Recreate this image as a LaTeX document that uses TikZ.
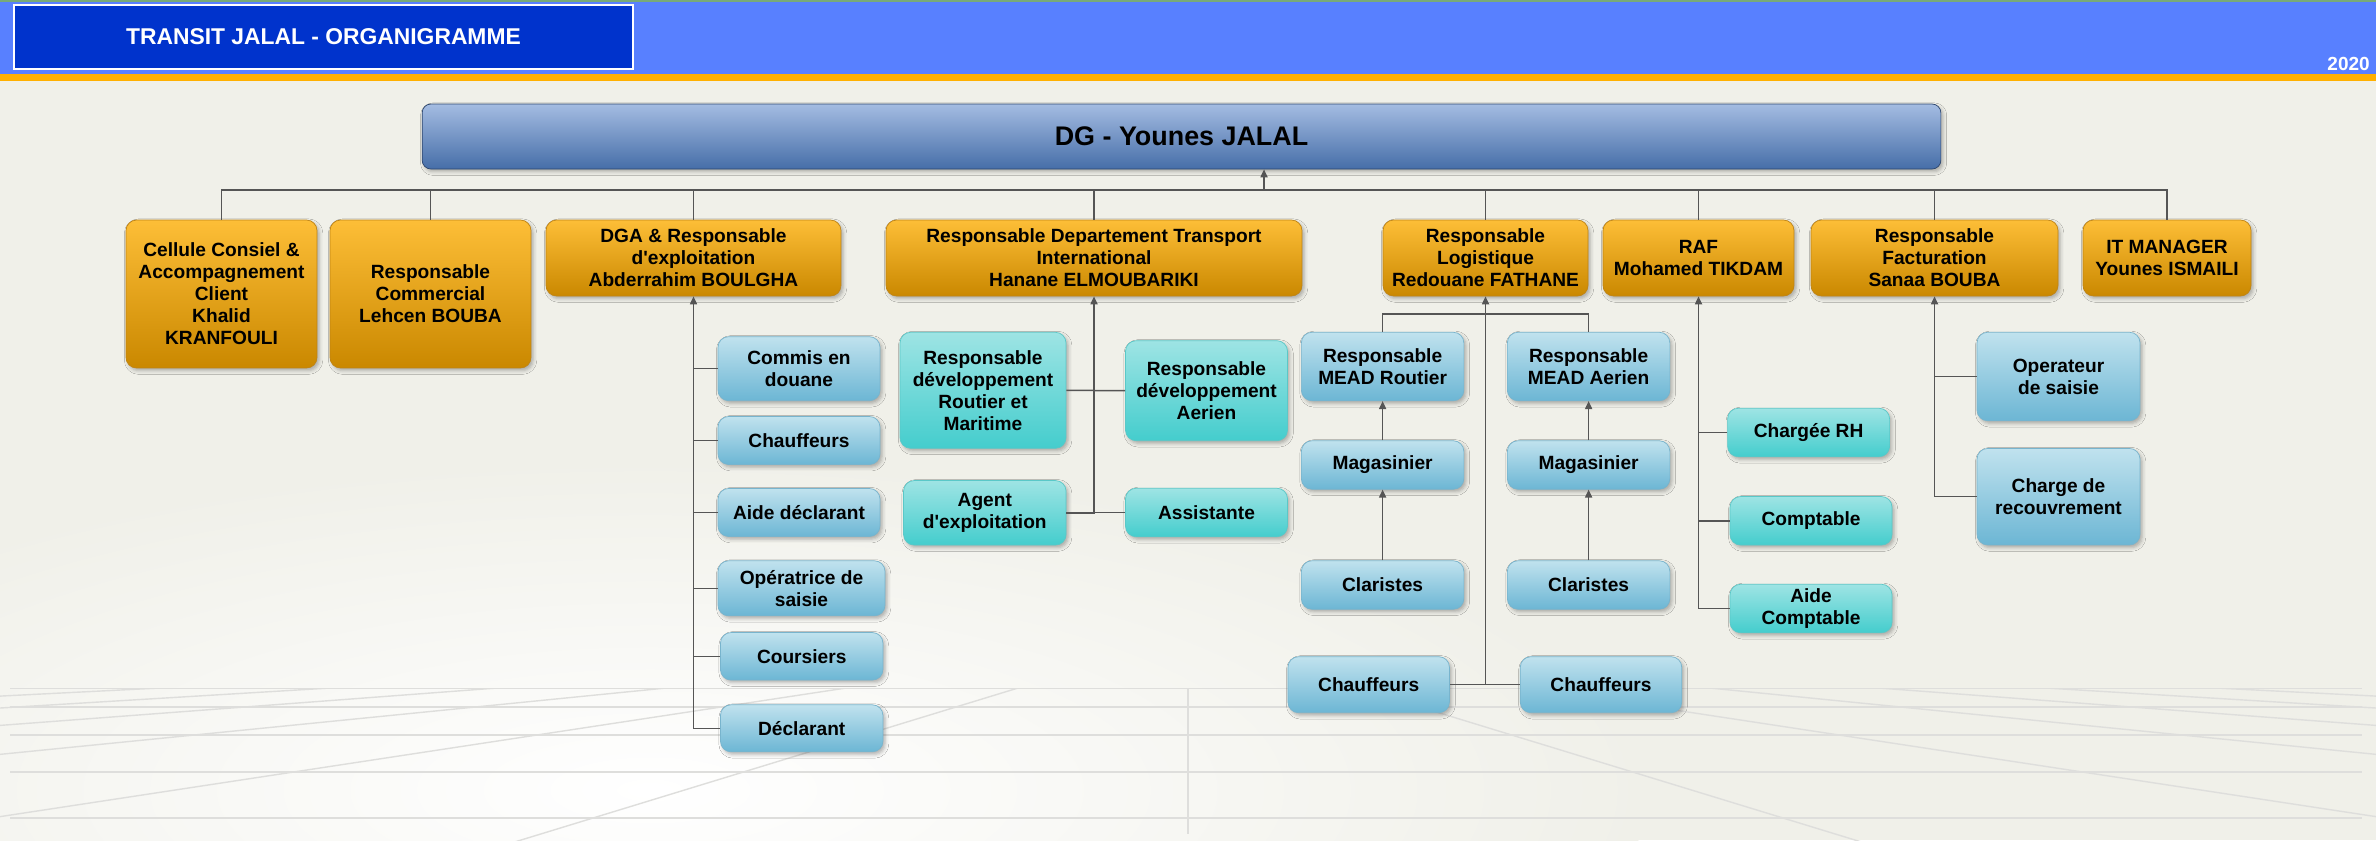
\documentclass[tikz,border=0pt]{standalone}
\usepackage{fontspec}
\setmainfont{Liberation Sans}
\usetikzlibrary{arrows.meta,shadows.blur}
\definecolor{bandeau}{RGB}{88,128,255}
\definecolor{liseret}{RGB}{120,170,120}
\definecolor{titrebleu}{RGB}{0,51,204}
\definecolor{orbande}{RGB}{255,176,0}
\definecolor{fond}{RGB}{240,240,233}
\definecolor{trait}{RGB}{85,85,85}
\definecolor{sol}{RGB}{222,222,220}
\definecolor{orhaut}{RGB}{253,190,55}
\definecolor{orbas}{RGB}{202,136,0}
\definecolor{orbord}{RGB}{192,132,20}
\definecolor{dghaut}{RGB}{164,188,226}
\definecolor{dgbas}{RGB}{70,110,168}
\definecolor{dgbord}{RGB}{45,70,110}
\definecolor{blhaut}{RGB}{192,226,238}
\definecolor{blbas}{RGB}{108,182,212}
\definecolor{blbord}{RGB}{120,180,205}
\definecolor{tqhaut}{RGB}{158,228,228}
\definecolor{tqbas}{RGB}{68,205,205}
\definecolor{tqbord}{RGB}{90,200,200}
\newcommand{\apos}{\textquotesingle}
\tikzset{
  boite/.style={rounded corners=6pt,align=center,inner sep=2pt,text=black,
                font=\fontsize{10.9}{12.5}\selectfont\bfseries,
                blur shadow={shadow xshift=1.2pt,shadow yshift=-1.5pt,shadow blur steps=4,shadow opacity=30}},
  chef/.style={boite,draw=dgbord,top color=dghaut,bottom color=dgbas,rounded corners=5pt,
               font=\fontsize{15.3}{18}\selectfont\bfseries},
  poste/.style={boite,draw=orbord,top color=orhaut,bottom color=orbas,minimum height=1.52cm},
  equipe/.style={boite,draw=blbord,top color=blhaut,bottom color=blbas,minimum width=3.25cm},
  equipetq/.style={boite,draw=tqbord,top color=tqhaut,bottom color=tqbas,minimum width=3.24cm},
  lien/.style={draw=trait,line width=0.85pt},
  fleche/.style={lien,-{Triangle[length=4.5pt,width=4pt]}},
  solligne/.style={draw=sol,line width=0.8pt},
}
\begin{document}
\begin{tikzpicture}[x=0.02cm,y=-0.02cm]
  \useasboundingbox (0,0) rectangle (2376,840);
  % 1. fond et bandeau
  \fill[fond] (0,81) rectangle (2376,840);
  \shade[inner color=white,outer color=fond] (650,790) ellipse (1000 and 330);
  \begin{scope}
    \clip (0,688) rectangle (2376,840);
    \foreach \x in {160,330,497,666,846,1018,1358,1530,1710,1879,2046,2216}
      \draw[solligne] (\x,688) -- ({1188+(\x-1188)*4},844);
    \foreach \y in {688,707,735,772,818}
      \draw[solligne] (10,\y) -- (2362,\y);
    \draw[solligne] (1188,688) -- (1188,834);
  \end{scope}
  \fill[bandeau] (0,0) rectangle (2376,74);
  \fill[liseret] (0,0) rectangle (2376,1.5);
  \fill[orbande] (0,74) rectangle (2376,81);
  \node[draw=white,line width=0.9pt,fill=titrebleu,text=white,minimum width=12.38cm,minimum height=1.28cm,
        font=\fontsize{13}{15}\selectfont\bfseries] (entete) at (323.5,37) {TRANSIT JALAL - ORGANIGRAMME};
  \node[anchor=east,inner sep=0pt,text=white,font=\fontsize{10.8}{12}\selectfont\bfseries] (annee) at (2370,63.5) {2020};

  % 2. direction
  \node[chef,minimum width=30.38cm,minimum height=1.3cm] (dg) at (1181.5,136.5) {DG - Younes JALAL};
  \node[poste,minimum width=3.82cm,minimum height=2.96cm] (cel) at (221.5,294) {Cellule Consiel \&\\Accompagnement\\Client\\Khalid\\KRANFOULI};
  \node[poste,minimum width=4.02cm,minimum height=2.96cm] (com) at (430.5,294) {Responsable\\Commercial\\Lehcen BOUBA};
  \node[poste,minimum width=5.9cm] (dga) at (693.5,258) {DGA \& Responsable\\d\apos exploitation\\Abderrahim BOULGHA};
  \node[poste,minimum width=8.32cm] (tra) at (1094,258) {Responsable Departement Transport\\International\\Hanane ELMOUBARIKI};
  \node[poste,minimum width=4.1cm] (log) at (1485.5,258) {Responsable\\Logistique\\Redouane FATHANE};
  \node[poste,minimum width=3.82cm] (raf) at (1698.5,258) {RAF\\Mohamed TIKDAM};
  \node[poste,minimum width=4.94cm] (fac) at (1934.5,258) {Responsable\\Facturation\\Sanaa BOUBA};
  \node[poste,minimum width=3.36cm] (itm) at (2167,258) {IT MANAGER\\Younes ISMAILI};
  \coordinate (bus) at (1264,190);
  \draw[fleche] (bus) -- (bus |- dg.south);
  \foreach \n in {cel,com,dga,tra,log,raf,fac,itm}
    \draw[lien] (\n.north) |- (bus);

  % 3. exploitation
  \node[equipe,minimum width=3.24cm,minimum height=1.28cm] (commis) at (799,368.7) {Commis en\\douane};
  \node[equipe,minimum width=3.24cm,minimum height=0.96cm] (chauf) at (799,440.5) {Chauffeurs};
  \node[equipe,minimum width=3.24cm,minimum height=0.96cm] (aided) at (799,512.5) {Aide déclarant};
  \node[equipe,minimum width=3.34cm,minimum height=1.1cm] (opera) at (801.5,588.3) {Opératrice de\\saisie};
  \node[equipe,minimum height=0.95cm] (cours) at (801.7,656.3) {Coursiers};
  \node[equipe,minimum height=0.94cm] (decl) at (801.7,728.3) {Déclarant};
  \draw[fleche] (decl.west) -| (dga.south);
  \foreach \n in {commis,chauf,aided,opera,cours}
    \draw[lien] (\n.west) -- (\n.west -| dga.south);

  % 4. transport international
  \node[equipetq,minimum width=3.32cm,minimum height=2.32cm] (rdm) at (983,390.3) {Responsable\\développement\\Routier et\\Maritime};
  \node[equipetq,minimum height=2cm] (rda) at (1206.5,390.7) {Responsable\\développement\\Aerien};
  \node[equipetq,minimum width=3.25cm,minimum height=1.29cm] (agent) at (984.8,512.8) {Agent\\d\apos exploitation};
  \node[equipetq,minimum height=0.97cm] (assist) at (1206.5,512.5) {Assistante};
  \draw[fleche] (agent.east) -| (tra.south);
  \draw[lien] (assist.west) -- (assist.west -| tra.south);
  \draw[lien] (rdm.east) -- (rda.west);

  % 5. logistique
  \node[equipe,minimum height=1.37cm] (meadr) at (1382.6,366.5) {Responsable\\MEAD Routier};
  \node[equipe,minimum height=1.37cm] (meada) at (1588.6,366.5) {Responsable\\MEAD Aerien};
  \node[equipe,minimum height=0.97cm] (magr) at (1382.6,465) {Magasinier};
  \node[equipe,minimum height=0.97cm] (maga) at (1588.6,465) {Magasinier};
  \node[equipe,minimum height=0.97cm] (clar) at (1382.6,585) {Claristes};
  \node[equipe,minimum height=0.97cm] (claa) at (1588.6,585) {Claristes};
  \node[equipe,minimum width=3.23cm,minimum height=1.12cm] (chg) at (1368.7,684.7) {Chauffeurs};
  \node[equipe,minimum width=3.23cm,minimum height=1.12cm] (chd) at (1601,684.7) {Chauffeurs};
  \draw[fleche] (chg.east) -| (log.south);
  \draw[lien] (chd.west) -- (chd.west -| log.south);
  \draw[lien] (meadr.north) -- ++(0,-18) -| (meada.north);
  \draw[fleche] (magr) -- (meadr);
  \draw[fleche] (maga) -- (meada);
  \draw[fleche] (clar) -- (magr);
  \draw[fleche] (claa) -- (maga);

  % 6. RAF
  \node[equipetq,minimum height=0.97cm] (rh) at (1808.6,432.5) {Chargée RH};
  \node[equipetq,minimum height=0.97cm] (compt) at (1811,520.8) {Comptable};
  \node[equipetq,minimum height=0.97cm] (aidec) at (1811,608.5) {Aide\\Comptable};
  \draw[fleche] (aidec.west) -| (raf.south);
  \foreach \n in {rh,compt}
    \draw[lien] (\n.west) -- (\n.west -| raf.south);

  % 7. facturation
  \node[equipe,minimum width=3.26cm,minimum height=1.77cm] (oper) at (2058.5,376.5) {Operateur\\de saisie};
  \node[equipe,minimum width=3.26cm,minimum height=1.93cm] (recouv) at (2058.5,496.7) {Charge de\\recouvrement};
  \draw[fleche] (recouv.west) -| (fac.south);
  \draw[lien] (oper.west) -- (oper.west -| fac.south);
\end{tikzpicture}
\end{document}
